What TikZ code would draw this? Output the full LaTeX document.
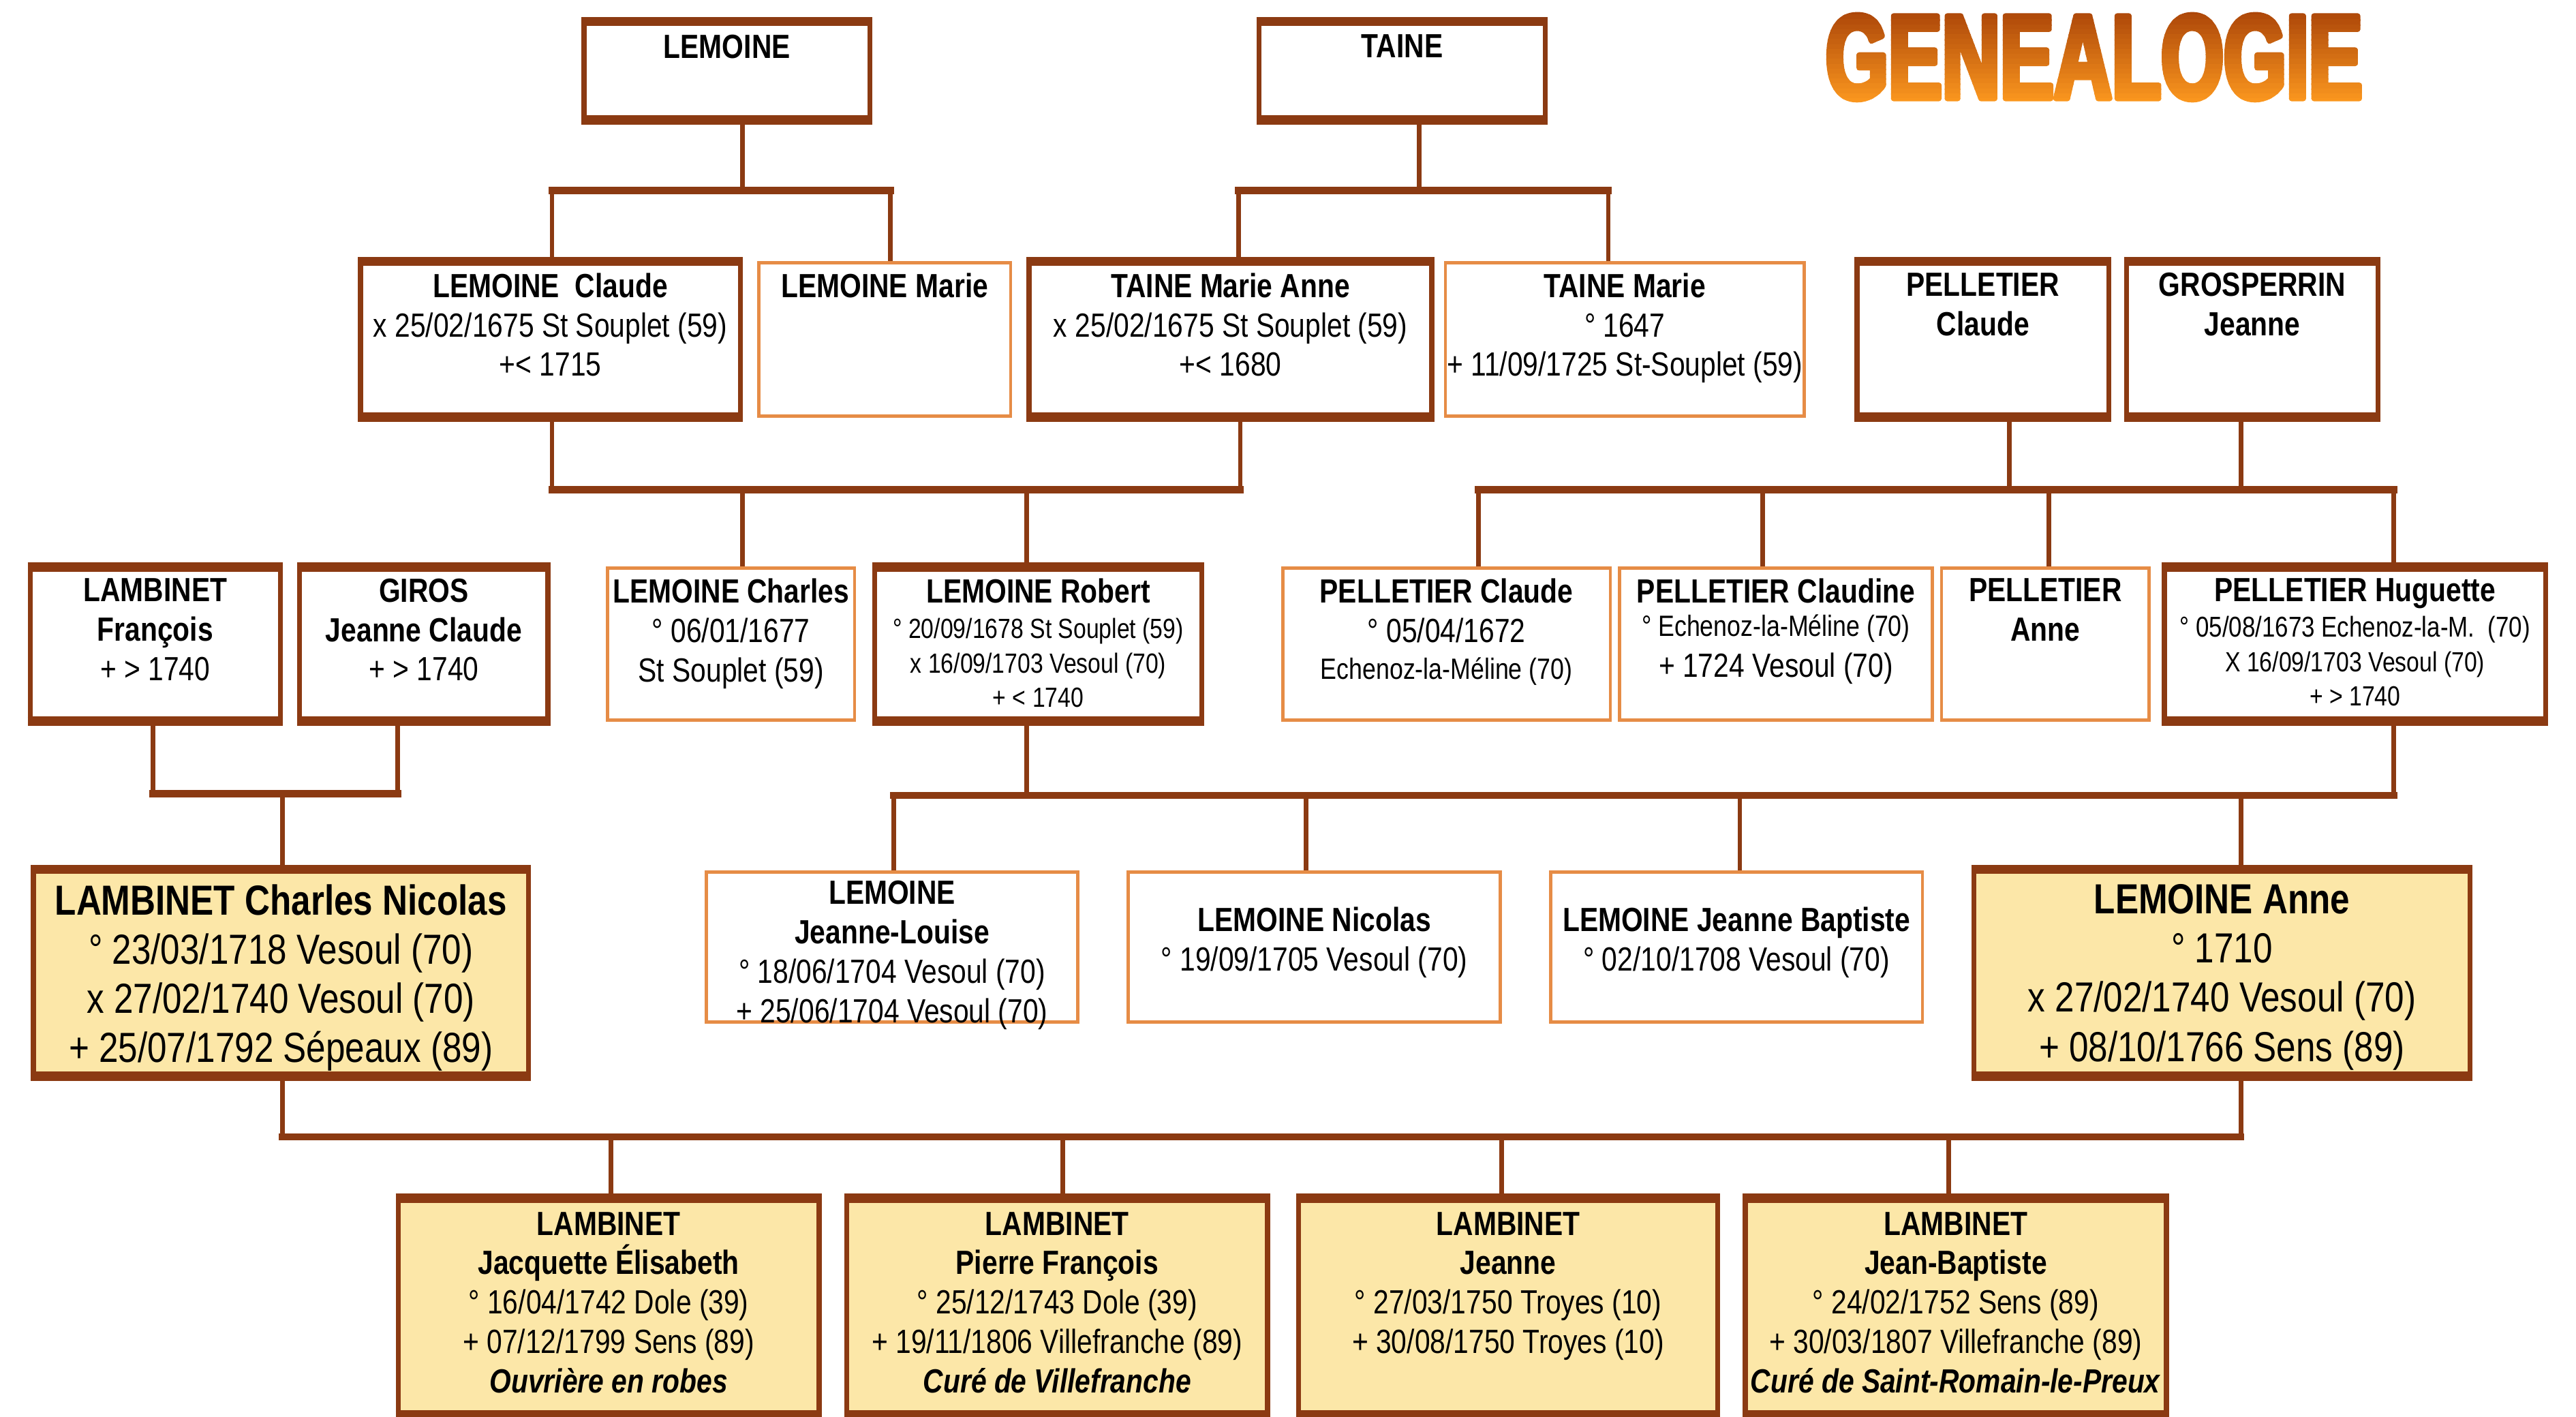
\documentclass[tikz,border=0pt]{standalone}
\usepackage{fontspec}
\setmainfont{Liberation Sans}[FakeStretch=0.83]
\newfontfamily\titlefont{Liberation Sans}[FakeStretch=0.67,FakeBold=4.5]
\usetikzlibrary{fit,calc}

\definecolor{brun}{RGB}{139,58,18}
\definecolor{orangec}{RGB}{230,140,70}
\definecolor{jaune}{RGB}{252,231,168}
\definecolor{titrehaut}{RGB}{168,66,8}
\definecolor{titrebas}{RGB}{250,150,30}
\newcommand\detail{\fontsize{12}{14.9}\selectfont}

\tikzset{
  main/.style={draw=brun,line width=2.2pt,fill=white,inner sep=-1pt,line join=miter},
  side/.style={draw=orangec,line width=1.4pt,fill=white,inner sep=-0.6pt,line join=miter},
  direct/.style={main,fill=jaune},
  edge/.style={draw=brun,line width=3.8pt,line cap=butt},
  link/.style={draw=brun,line width=2pt,line cap=butt},
  bus/.style={draw=brun,line width=3.1pt,line cap=rect},
  who/.style={anchor=north,align=center,inner sep=0pt,font=\fontsize{14.5}{17.07}\selectfont},
  serre/.style={who,font=\fontsize{14.5}{14.9}\selectfont},
  big/.style={who,font=\fontsize{18.2}{21.3}\selectfont}
}

\begin{document}
\begin{tikzpicture}[line cap=round,line join=round,x=0.025cm,y=-0.025cm]
      \useasboundingbox (0,0) rectangle (1568,862);

      % titre en degrade
      \foreach \i in {0,...,19}{
        \pgfmathsetmacro\p{100*\i/19}
        \colorlet{titrecol}{titrebas!\p!titrehaut}
        \begin{scope}
          \clip (1090,3+\i*3) rectangle (1460,6.5+\i*3);
          \node[anchor=base,inner sep=0pt,text=titrecol,font=\titlefont\bfseries\fontsize{52}{60}\selectfont] (titre) at (1274.6,60) {GENEALOGIE};
        \end{scope}
      }

      % arriere-grands-parents
      \node[main,fit={(354,13)(531,73)}] (lemoine) {};
      \node[who] (tLemoine) at ($(lemoine.north)+(0,8)$) {\textbf{LEMOINE}};
      \node[main,fit={(765,13)(942,73)}] (taine) {};
      \node[who] (tTaine) at ($(taine.north)+(0,8)$) {\textbf{TAINE}};

      % generation 1
      \node[main,fit={(218,159)(452,254)}] (lemClaude) {};
      \node[who] (tLemClaude) at ($(lemClaude.north)+(0,7)$) {\textbf{LEMOINE\ \ Claude}\\ x 25/02/1675 St Souplet (59)\\ +< 1715};
      \node[side,fit={(461,159)(616,254)}] (lemMarie) {};
      \node[who] (tLemMarie) at ($(lemMarie.north)+(0,7)$) {\textbf{LEMOINE Marie}};
      \node[main,fit={(625,159)(873,254)}] (taineMA) {};
      \node[who] (tTaineMA) at ($(taineMA.north)+(0,7)$) {\textbf{TAINE Marie Anne}\\ x 25/02/1675 St Souplet (59)\\ +< 1680};
      \node[side,fit={(879,159)(1099,254)}] (taineMarie) {};
      \node[who] (tTaineMarie) at ($(taineMarie.north)+(0,7)$) {\textbf{TAINE Marie}\\ ° 1647\\ + 11/09/1725 St-Souplet (59)};
      \node[main,fit={(1129,159)(1285,254)}] (pelClaude) {};
      \node[who] (tPelClaude) at ($(pelClaude.north)+(0,7)$) {\textbf{PELLETIER}\\ \textbf{Claude}};
      \node[main,fit={(1293,159)(1449,254)}] (grosJeanne) {};
      \node[who] (tGrosJeanne) at ($(grosJeanne.north)+(0,7)$) {\textbf{GROSPERRIN}\\ \textbf{Jeanne}};

      % generation 2
      \node[main,fit={(17,345)(172,439)}] (lambFr) {};
      \node[who] (tLambFr) at ($(lambFr.north)+(0,7)$) {\textbf{LAMBINET}\\ \textbf{François}\\ + > 1740};
      \node[main,fit={(181,345)(335,439)}] (giros) {};
      \node[who] (tGiros) at ($(giros.north)+(0,7)$) {\textbf{GIROS}\\ \textbf{Jeanne Claude}\\ + > 1740};
      \node[side,fit={(369,345)(521,439)}] (lemCharles) {};
      \node[who] (tLemCharles) at ($(lemCharles.north)+(0,7)$) {\textbf{LEMOINE Charles}\\ ° 06/01/1677\\ St Souplet (59)};
      \node[main,fit={(531,345)(733,439)}] (lemRobert) {};
      \node[serre] (tLemRobert) at ($(lemRobert.north)+(0,7)$) {\textbf{LEMOINE Robert}\\[0.5pt] {\detail ° 20/09/1678 St Souplet (59)}\\ {\detail x 16/09/1703 Vesoul (70)}\\ {\detail + < 1740}};
      \node[side,fit={(780,345)(981,439)}] (pelClaude2) {};
      \node[who] (tPelClaude2) at ($(pelClaude2.north)+(0,7)$) {\textbf{PELLETIER Claude}\\ ° 05/04/1672\\[-1pt] {\fontsize{12.7}{15}\selectfont Echenoz-la-Méline (70)}};
      \node[side,fit={(985,345)(1177,439)}] (pelClaudine) {};
      \node[who] (tPelClaudine) at ($(pelClaudine.north)+(0,7)$) {\textbf{PELLETIER Claudine}\\[-2.6pt] {\fontsize{12.7}{15}\selectfont ° Echenoz-la-Méline (70)}\\[0.5pt] + 1724 Vesoul (70)};
      \node[side,fit={(1181,345)(1309,439)}] (pelAnne) {};
      \node[who] (tPelAnne) at ($(pelAnne.north)+(0,7)$) {\textbf{PELLETIER}\\ \textbf{Anne}};
      \node[main,fit={(1316,345)(1551,439)}] (pelHuguette) {};
      \node[serre] (tPelHuguette) at ($(pelHuguette.north)+(0,7)$) {\textbf{PELLETIER Huguette}\\[0.5pt] {\fontsize{12.4}{14.9}\selectfont ° 05/08/1673 Echenoz-la-M.\ \ (70)}\\ {\detail X 16/09/1703 Vesoul (70)}\\ {\detail + > 1740}};

      % generation 3
      \node[direct,fit={(19,529)(323,655)}] (lambCN) {};
      \node[big] (tLambCN) at ($(lambCN.north)+(0,9)$) {\textbf{LAMBINET Charles Nicolas}\\ ° 23/03/1718 Vesoul (70)\\ x 27/02/1740 Vesoul (70)\\ + 25/07/1792 Sépeaux (89)};
      \node[side,fit={(429,530)(657,623)}] (jeanneLouise) {};
      \node[who] (tJeanneLouise) at ($(jeanneLouise.north)+(0,6)$) {\textbf{LEMOINE}\\ \textbf{Jeanne-Louise}\\ ° 18/06/1704 Vesoul (70)\\ + 25/06/1704 Vesoul (70)};
      \node[side,fit={(686,530)(914,623)}] (nicolas) {};
      \node[who] (tNicolas) at ($(nicolas.north)+(0,22)$) {\textbf{LEMOINE Nicolas}\\ ° 19/09/1705 Vesoul (70)};
      \node[side,fit={(943,530)(1171,623)}] (jeanneBap) {};
      \node[who] (tJeanneBap) at ($(jeanneBap.north)+(0,22)$) {\textbf{LEMOINE Jeanne Baptiste}\\ ° 02/10/1708 Vesoul (70)};
      \node[direct,fit={(1200,529)(1505,655)}] (lemAnne) {};
      \node[big] (tLemAnne) at ($(lemAnne.north)+(0,9)$) {\textbf{LEMOINE Anne}\\ ° 1710\\ x 27/02/1740 Vesoul (70)\\ + 08/10/1766 Sens (89)};

      % enfants
      \node[direct,fit={(241,729)(500,861)}] (jacquette) {};
      \node[who] (tJacquette) at ($(jacquette.north)+(0,8.5)$) {\textbf{LAMBINET}\\ \textbf{Jacquette Élisabeth}\\ ° 16/04/1742 Dole (39)\\ + 07/12/1799 Sens (89)\\ \textbf{\textit{Ouvrière en robes}}};
      \node[direct,fit={(514,729)(773,861)}] (pierre) {};
      \node[who] (tPierre) at ($(pierre.north)+(0,8.5)$) {\textbf{LAMBINET}\\ \textbf{Pierre François}\\ ° 25/12/1743 Dole (39)\\ + 19/11/1806 Villefranche (89)\\ \textbf{\textit{Curé de Villefranche}}};
      \node[direct,fit={(789,729)(1047,861)}] (jeanne) {};
      \node[who] (tJeanne) at ($(jeanne.north)+(0,8.5)$) {\textbf{LAMBINET}\\ \textbf{Jeanne}\\ ° 27/03/1750 Troyes (10)\\ + 30/08/1750 Troyes (10)};
      \node[direct,fit={(1061,729)(1320,861)}] (jeanBap) {};
      \node[who] (tJeanBap) at ($(jeanBap.north)+(0,8.5)$) {\textbf{LAMBINET}\\ \textbf{Jean-Baptiste}\\ ° 24/02/1752 Sens (89)\\ + 30/03/1807 Villefranche (89)\\ \textbf{\textit{Curé de Saint-Romain-le-Preux}}};

      % bords haut et bas plus epais
      \foreach \n in {lemoine,taine,lemClaude,taineMA,pelClaude,grosJeanne,lambFr,giros,lemRobert,pelHuguette,lambCN,lemAnne,jacquette,pierre,jeanne,jeanBap}{
        \draw[edge,yshift=-1.9pt] (\n.north west) -- (\n.north east);
        \draw[edge,yshift=1.9pt] (\n.south west) -- (\n.south east);
      }

      % liens : LEMOINE et TAINE
      \coordinate (kLem) at (452,116);
      \coordinate (kLemA) at (336,116);
      \coordinate (kLemB) at (542,116);
      \coordinate (kTai) at (864,116);
      \coordinate (kTaiA) at (754,116);
      \coordinate (kTaiB) at (979,116);
      \draw[link] (lemoine.south -| kLem) -- (kLem);
      \draw[link] (taine.south -| kTai) -- (kTai);
      \draw[bus] (kLemA) -- (kLemB);
      \draw[bus] (kTaiA) -- (kTaiB);
      \foreach \k/\n in {kLemA/lemClaude,kLemB/lemMarie,kTaiA/taineMA,kTaiB/taineMarie}
        \draw[link] (\k) -- (\k |- \n.north);

      % LEMOINE Claude x TAINE Marie Anne
      \coordinate (kM1A) at (336,298);
      \coordinate (kM1B) at (755,298);
      \coordinate (kM1C) at (452,298);
      \coordinate (kM1D) at (625,298);
      \draw[bus] (kM1A) -- (kM1B);
      \draw[link] (kM1A) -- (kM1A |- lemClaude.south);
      \draw[link] (kM1B) -- (kM1B |- taineMA.south);
      \draw[link] (kM1C) -- (kM1C |- lemCharles.north);
      \draw[link] (kM1D) -- (kM1D |- lemRobert.north);

      % PELLETIER Claude x GROSPERRIN Jeanne
      \coordinate (kM2A) at (1223,298);
      \coordinate (kM2B) at (1364,298);
      \draw[link] (kM2A) -- (kM2A |- pelClaude.south);
      \draw[link] (kM2B) -- (kM2B |- grosJeanne.south);
      \coordinate (kM2C) at (900,298);
      \coordinate (kM2D) at (1073,298);
      \coordinate (kM2E) at (1247,298);
      \coordinate (kM2F) at (1457,298);
      \draw[bus] (kM2C) -- (kM2F);
      \foreach \k/\n in {kM2C/pelClaude2,kM2D/pelClaudine,kM2E/pelAnne,kM2F/pelHuguette}
        \draw[link] (\k) -- (\k |- \n.north);

      % LAMBINET Francois x GIROS
      \coordinate (kM3A) at (93,483);
      \coordinate (kM3B) at (242,483);
      \coordinate (kM3C) at (172,483);
      \draw[bus] (kM3A) -- (kM3B);
      \draw[link] (kM3A) -- (kM3A |- lambFr.south);
      \draw[link] (kM3B) -- (kM3B |- giros.south);
      \draw[link] (kM3C) -- (kM3C |- lambCN.north);

      % LEMOINE Robert x PELLETIER Huguette
      \coordinate (kM4A) at (625,484);
      \coordinate (kM4B) at (1457,484);
      \draw[link] (kM4A) -- (kM4A |- lemRobert.south);
      \draw[link] (kM4B) -- (kM4B |- pelHuguette.south);
      \coordinate (kM4C) at (544,484);
      \coordinate (kM4D) at (795,484);
      \coordinate (kM4E) at (1059,484);
      \coordinate (kM4F) at (1364,484);
      \draw[bus] (kM4C) -- (kM4B);
      \foreach \k/\n in {kM4C/jeanneLouise,kM4D/nicolas,kM4E/jeanneBap,kM4F/lemAnne}
        \draw[link] (\k) -- (\k |- \n.north);

      % LAMBINET Charles Nicolas x LEMOINE Anne
      \coordinate (kM5A) at (172,692);
      \coordinate (kM5B) at (1364,692);
      \draw[bus] (kM5A) -- (kM5B);
      \draw[link] (kM5A) -- (kM5A |- lambCN.south);
      \draw[link] (kM5B) -- (kM5B |- lemAnne.south);
      \coordinate (kM5C) at (372,692);
      \coordinate (kM5D) at (647,692);
      \coordinate (kM5E) at (914,692);
      \coordinate (kM5F) at (1186,692);
      \foreach \k/\n in {kM5C/jacquette,kM5D/pierre,kM5E/jeanne,kM5F/jeanBap}
        \draw[link] (\k) -- (\k |- \n.north);
    \end{tikzpicture}
\end{document}
